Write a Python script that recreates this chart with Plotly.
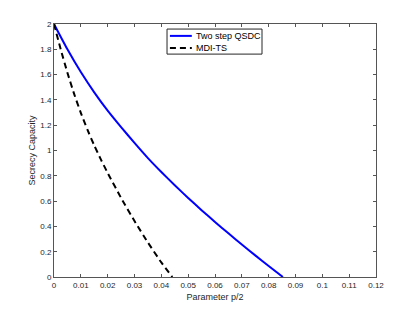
import plotly.graph_objects as go

# Two step QSDC
qsdc_p = [0.0, 0.005, 0.01, 0.015, 0.02, 0.025, 0.03, 0.035, 0.04, 0.045, 0.05,
          0.055, 0.06, 0.065, 0.07, 0.075, 0.08, 0.0853]
qsdc_c = [2.0, 1.80, 1.62, 1.46, 1.315, 1.185, 1.06, 0.94, 0.83, 0.725, 0.625,
          0.528, 0.435, 0.345, 0.257, 0.171, 0.087, 0.0]

# MDI-TS
mdi_p = [0.0, 0.0025, 0.005, 0.0075, 0.01, 0.0125, 0.015, 0.0175, 0.02, 0.025,
         0.03, 0.035, 0.04, 0.0441]
mdi_c = [2.0, 1.80, 1.615, 1.4475, 1.2975, 1.1625, 1.04, 0.9275, 0.8225, 0.625,
         0.4425, 0.2725, 0.115, 0.0]

series_names = ["Two step QSDC", "MDI-TS"]
series_colors = ["#0000ff", "#000000"]
series_dash = ["solid", "6px,4px"]

x_ticks = [0, 0.01, 0.02, 0.03, 0.04, 0.05, 0.06, 0.07, 0.08, 0.09, 0.1, 0.11, 0.12]
x_labels = ["0", "0.01", "0.02", "0.03", "0.04", "0.05", "0.06", "0.07", "0.08", "0.09", "0.1", "0.11", "0.12"]
y_ticks = [0, 0.2, 0.4, 0.6, 0.8, 1.0, 1.2, 1.4, 1.6, 1.8, 2.0]
y_labels = ["0", "0.2", "0.4", "0.6", "0.8", "1", "1.2", "1.4", "1.6", "1.8", "2"]

FONT = "Liberation Sans, Arial, Helvetica"
TXT = "#262626"
AX = "#555555"

fig = go.Figure()
for xs, ys, name, col, dash in [(qsdc_p, qsdc_c, series_names[0], series_colors[0], series_dash[0]),
                                (mdi_p, mdi_c, series_names[1], series_colors[1], series_dash[1])]:
    fig.add_trace(go.Scatter(x=xs, y=ys, mode="lines", name=name, showlegend=False,
                             line=dict(color=col, width=2, dash=dash, shape="spline", smoothing=0.5)))

axis_common = dict(showline=True, linecolor=AX, linewidth=1, mirror="ticks",
                   ticks="inside", ticklen=3, tickcolor=AX, showgrid=False, zeroline=False,
                   automargin=False, tickfont=dict(family=FONT, size=8, color=TXT))

# Legend box (drawn in paper coordinates)
shapes = [dict(type="rect", xref="paper", yref="paper", x0=0.351, x1=0.646, y0=0.881, y1=0.980,
               line=dict(color=TXT, width=1), fillcolor="white", layer="above")]
annotations = []
leg_y = [0.953, 0.905]
for i in range(2):
    shapes.append(dict(type="line", xref="paper", yref="paper", x0=0.360, x1=0.428,
                       y0=leg_y[i], y1=leg_y[i], layer="above",
                       line=dict(color=series_colors[i], width=2, dash=series_dash[i])))
    annotations.append(dict(xref="paper", yref="paper", x=0.436, y=leg_y[i], xanchor="left",
                            yanchor="middle", text=series_names[i], showarrow=False,
                            font=dict(family=FONT, size=9, color="#000000")))

# page body adds an 8px offset, so margins are shifted to keep the plot area in place
fig.update_layout(
    width=415, height=312,
    margin=dict(l=46, r=47, t=16, b=43),
    paper_bgcolor="white", plot_bgcolor="white",
    showlegend=False,
    shapes=shapes, annotations=annotations,
    xaxis=dict(range=[0, 0.12], tickvals=x_ticks, ticktext=x_labels,
               title=dict(text="Parameter p/2", font=dict(family=FONT, size=9, color=TXT), standoff=5),
               **axis_common),
    yaxis=dict(range=[0, 2], tickvals=y_ticks, ticktext=y_labels,
               title=dict(text="Secrecy Capacity", font=dict(family=FONT, size=9, color=TXT), standoff=3),
               **axis_common),
)

fig.write_html("out.html")
